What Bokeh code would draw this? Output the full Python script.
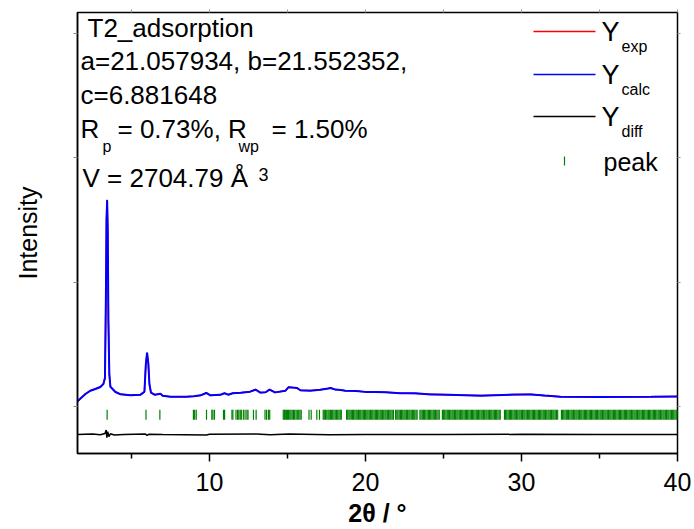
from bokeh.plotting import figure
from bokeh.models import Range1d, LinearAxis, FixedTicker, Label, BoxAnnotation
from bokeh.embed import file_html
from bokeh.resources import INLINE

# ---------------- data ----------------
two_theta = [1.54, 1.73, 2.05, 2.37, 2.69, 3.01, 3.20, 3.30, 3.36, 3.40, 3.44, 3.48, 3.52,
             3.58, 3.65, 3.97, 4.30, 4.94, 5.58, 5.83, 5.92, 6.00, 6.08, 6.15, 6.25, 6.50,
             6.86, 7.00, 7.50, 8.50, 9.00, 9.42, 9.80, 10.06, 10.70, 10.96, 11.20, 11.50,
             12.00, 12.60, 12.95, 13.27, 13.60, 13.85, 14.20, 14.87, 15.06, 15.30, 15.60,
             15.83, 16.47, 17.10, 17.63, 17.76, 18.08, 18.40, 18.70, 19.36, 20.00, 20.60,
             21.28, 22.20, 23.20, 24.17, 24.80, 27.40, 29.50, 30.60, 31.50, 32.50, 35.10,
             38.30, 40.00]
y_exp = [106, 160, 260, 326, 360, 400, 460, 560, 2160, 3760, 4160, 3560, 1760,
         660, 400, 300, 250, 230, 240, 300, 860, 1080, 860, 460, 280, 240,
         260, 220, 200, 200, 210, 226, 280, 226, 240, 274, 240, 274,
         280, 300, 346, 280, 290, 346, 286, 320, 394, 386, 380,
         326, 326, 340, 370, 380, 340, 340, 320, 320, 294, 300,
         290, 274, 266, 250, 240, 226, 240, 250, 220, 200, 194,
         200, 206]
y_calc = [110, 165, 255, 320, 356, 396, 455, 580, 2200, 3780, 4150, 3520, 1720,
          650, 400, 296, 248, 232, 242, 302, 850, 1085, 870, 455, 282, 240,
          262, 222, 202, 200, 212, 228, 276, 228, 238, 270, 242, 270,
          282, 302, 342, 284, 290, 342, 288, 322, 390, 388, 378,
          330, 322, 342, 366, 376, 344, 336, 322, 318, 298, 296,
          292, 270, 270, 246, 244, 222, 244, 246, 224, 202, 196,
          198, 206]
diff_two_theta = [1.54, 2.00, 2.50, 3.00, 3.30, 3.38, 3.42, 3.48, 3.55, 3.65, 3.90, 4.50,
                  5.90, 6.00, 6.10, 7.00, 9.80, 10.00, 13.00, 13.90, 15.10, 17.70, 20.00,
                  25.00, 30.00, 35.00, 40.00]
y_diff = [-560, -555, -550, -565, -540, -470, -620, -500, -600, -545, -570, -560,
          -550, -575, -555, -560, -570, -555, -550, -565, -550, -565, -560,
          -560, -555, -560, -560]
peak_positions = [
    3.44, 5.93, 6.82, 8.97, 9.05, 9.15, 9.81, 10.15, 10.22, 10.32, 10.90, 10.97,
    11.44, 11.50, 11.70, 11.80, 11.88, 11.97, 12.04, 12.17, 12.28, 12.40, 12.47,
    12.82, 12.99, 13.56, 13.66, 13.78, 13.86,
    14.73, 14.80, 14.86, 14.93, 15.00, 15.07, 15.15, 15.22, 15.30, 15.38, 15.46,
    15.55, 15.63, 15.72, 15.80, 15.88, 16.38, 16.52, 16.88, 17.05,
    17.29, 17.36, 17.44, 17.52, 17.60, 17.67, 17.75, 17.83, 17.90, 17.98, 18.06,
    18.14, 18.22, 18.30, 18.38, 18.45,
    18.79, 18.86, 18.94, 19.01, 19.09, 19.17, 19.24, 19.32, 19.40, 19.47, 19.55,
    19.63, 19.70, 19.78, 19.86, 19.93, 20.01, 20.09, 20.16, 20.24, 20.32, 20.40,
    20.47, 20.55, 20.63, 20.70, 20.78, 20.86, 20.94, 21.01, 21.09, 21.17, 21.25,
    21.32, 21.40, 21.48, 21.56, 21.63, 21.71, 21.79,
    21.93, 22.01, 22.08, 22.16, 22.24, 22.31, 22.39, 22.47, 22.54, 22.62, 22.70,
    22.78, 22.85, 22.93, 23.01, 23.09, 23.16, 23.24, 23.31,
    23.49, 23.56, 23.64, 23.72, 23.79, 23.87, 23.95, 24.03, 24.10, 24.18, 24.26,
    24.34, 24.41, 24.49, 24.57, 24.65, 24.73,
    24.93, 25.01, 25.08, 25.16, 25.24, 25.31, 25.39, 25.47, 25.55, 25.62, 25.70,
    25.78, 25.86, 25.93, 26.01, 26.09, 26.17, 26.24, 26.32, 26.40, 26.48, 26.55,
    26.63, 26.71, 26.79, 26.86, 26.94, 27.02, 27.10, 27.17, 27.25, 27.33, 27.41,
    27.48, 27.56, 27.64, 27.72, 27.79, 27.87, 27.95, 28.03, 28.10, 28.18, 28.26,
    28.34, 28.41, 28.49, 28.57, 28.64,
    28.91, 28.98, 29.06, 29.14, 29.22, 29.29, 29.37, 29.45, 29.53, 29.60, 29.68,
    29.76, 29.84, 29.91, 29.99, 30.07, 30.15, 30.22, 30.30, 30.38, 30.46, 30.53,
    30.61, 30.69, 30.77, 30.84, 30.92, 31.00, 31.08, 31.15, 31.23, 31.31, 31.39,
    31.46, 31.54, 31.62, 31.70, 31.77, 31.85, 31.93, 32.01, 32.08, 32.16, 32.24,
    32.32,
    32.56, 32.63, 32.71, 32.79, 32.87, 32.94, 33.02, 33.10, 33.18, 33.25, 33.33,
    33.41, 33.49, 33.56, 33.64, 33.72, 33.80, 33.87, 33.95, 34.03, 34.11, 34.18,
    34.26, 34.34, 34.42, 34.49, 34.57, 34.65, 34.73, 34.80, 34.88, 34.96, 35.04,
    35.11, 35.19, 35.27, 35.35, 35.42, 35.50, 35.58, 35.66, 35.73, 35.81, 35.89,
    35.97, 36.04, 36.12, 36.20, 36.28, 36.35, 36.43, 36.51, 36.59, 36.66, 36.74,
    36.82, 36.90, 36.97, 37.05, 37.13, 37.21, 37.28, 37.36, 37.44, 37.52, 37.59,
    37.67, 37.75, 37.83, 37.90, 37.98, 38.06, 38.14, 38.21, 38.29, 38.37, 38.45,
    38.52, 38.60, 38.68, 38.76, 38.83, 38.91, 38.99, 39.07, 39.14, 39.22, 39.30,
    39.38, 39.45, 39.53, 39.61, 39.69, 39.76, 39.84, 39.92, 39.99]
peak_tick_top = -60
peak_tick_bottom = -260

x_major_ticks = [10, 20, 30, 40]
x_minor_ticks = [5, 15, 25, 35]
y_ticks = [0, 2500, 5000, 7500]
title_lines = ["T2_adsorption", "a=21.057934, b=21.552352,", "c=6.881648"]

FONT = "Liberation Sans"

p = figure(width=694, height=529, output_backend="svg", toolbar_location=None,
           x_range=Range1d(1.54, 40), y_range=Range1d(-940, 7920),
           min_border_left=77, min_border_right=17, min_border_top=12, min_border_bottom=74)
p.grid.visible = False
p.outline_line_color = "black"
p.outline_line_width = 1.5
p.outline_line_alpha = 1.0
p.background_fill_color = "white"
p.border_fill_color = "white"

xa = p.xaxis[0]
xa.ticker = FixedTicker(ticks=x_major_ticks, minor_ticks=x_minor_ticks)
xa.major_tick_in = 0
xa.major_tick_out = 8
xa.minor_tick_in = 0
xa.minor_tick_out = 5
xa.axis_line_width = 1.5
xa.major_tick_line_width = 1.5
xa.minor_tick_line_width = 1.5
xa.axis_line_color = "black"
xa.major_tick_line_color = "black"
xa.minor_tick_line_color = "black"
xa.major_label_text_font = FONT
xa.major_label_text_font_size = "25px"
xa.major_label_text_color = "black"
xa.major_label_standoff = 11
xa.axis_label = "2θ / °"
xa.axis_label_text_font = FONT
xa.axis_label_text_font_size = "25px"
xa.axis_label_text_font_style = "bold"
xa.axis_label_text_color = "black"
xa.axis_label_standoff = 5

ya = p.yaxis[0]
ya.ticker = FixedTicker(ticks=y_ticks, minor_ticks=[])
ya.major_label_overrides = {t: "" for t in y_ticks}
ya.major_tick_in = 0
ya.major_tick_out = 4
ya.minor_tick_out = 0
ya.minor_tick_in = 0
ya.major_label_text_font = FONT
ya.major_label_standoff = 0
ya.axis_line_width = 1.5
ya.axis_line_color = "black"
ya.major_tick_line_color = "#888888"
ya.axis_label = "Intensity"
ya.axis_label_text_font = FONT
ya.axis_label_text_font_size = "25px"
ya.axis_label_text_font_style = "normal"
ya.axis_label_text_color = "black"
ya.axis_label_standoff = 32

# mirrored faint ticks on top and right
top_axis = LinearAxis(ticker=FixedTicker(ticks=x_major_ticks, minor_ticks=x_minor_ticks),
                      major_label_overrides={t: "" for t in x_major_ticks},
                      major_tick_in=0, major_tick_out=3, minor_tick_in=0, minor_tick_out=3,
                      major_label_standoff=0, axis_line_alpha=0,
                      major_tick_line_color="#999999", minor_tick_line_color="#999999")
p.add_layout(top_axis, "above")
right_axis = LinearAxis(ticker=FixedTicker(ticks=y_ticks, minor_ticks=[]),
                        major_label_overrides={t: "" for t in y_ticks},
                        major_tick_in=0, major_tick_out=3, minor_tick_in=0, minor_tick_out=0,
                        major_label_standoff=0, axis_line_alpha=0,
                        major_tick_line_color="#999999")
p.add_layout(right_axis, "right")

# ---------------- data glyphs ----------------
p.line(two_theta, y_exp, line_color="#ff0000", line_width=1.5)
p.line(two_theta, y_calc, line_color="#0000ff", line_width=2)
p.line(diff_two_theta, y_diff, line_color="black", line_width=1.5)
p.segment(x0=peak_positions, y0=[peak_tick_top] * len(peak_positions),
          x1=peak_positions, y1=[peak_tick_bottom] * len(peak_positions),
          line_color="#008000", line_width=1.2)

# ---------------- texts (frame-relative screen units, y = text baseline) ----------------
def lab(x, base, text, size=26, style="normal"):
    p.add_layout(Label(x=x, y=base + 0.36 * size, x_units="screen", y_units="screen",
                       text=text, text_font=FONT, text_font_size=f"{size}px",
                       text_font_style=style, text_color="black",
                       text_baseline="alphabetic", text_align="left"))

lab(10, 416, title_lines[0])
lab(3, 383, title_lines[1])
lab(3, 349, title_lines[2])
lab(3, 315, "R")
lab(25, 301, "p", 16)
lab(40, 315, "= 0.73%, R")
lab(161, 301, "wp", 16)
lab(194, 315, "= 1.50%")
lab(5, 266, "V = 2704.79 Å")
lab(181, 273, "3", 18)

# legend
def sample(left, right, bottom, top, color):
    p.add_layout(BoxAnnotation(left=left, right=right, bottom=bottom, top=top,
                               left_units="screen", right_units="screen",
                               bottom_units="screen", top_units="screen",
                               fill_color=color, fill_alpha=1.0, line_alpha=0))

sample(456, 518, 421.3, 422.7, "#ff0000")
sample(456, 518, 378.3, 379.7, "#0000ff")
sample(456, 518, 336.3, 337.7, "black")
sample(486.4, 487.6, 288, 297, "#008000")
lab(524, 412, "Y", 27)
lab(544, 401, "exp", 16)
lab(524, 369, "Y", 27)
lab(544, 358, "calc", 16)
lab(524, 327, "Y", 27)
lab(544, 316, "diff", 16)
lab(526, 283, "peak", 25)

open("out.html", "w").write(file_html(p, INLINE))
